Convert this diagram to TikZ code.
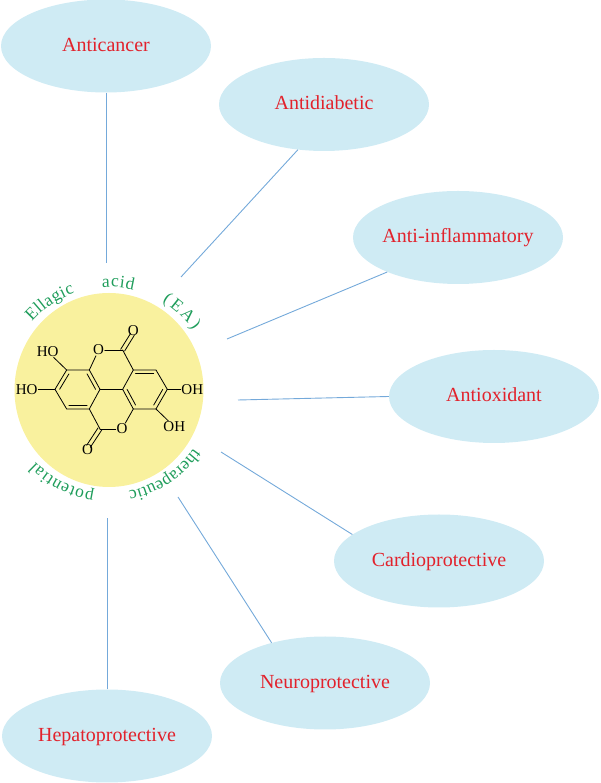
\documentclass[tikz,border=0pt]{standalone}
\usepackage{fontspec}
\setmainfont{Liberation Serif}
\usetikzlibrary{calc,decorations.text,shapes.geometric}
\definecolor{bubble}{HTML}{CFEBF4}
\definecolor{core}{HTML}{F9F19E}
\definecolor{effect}{HTML}{E2222C}
\definecolor{link}{HTML}{74A9DA}
\definecolor{word}{HTML}{1F9D5B}
\tikzset{
  effectnode/.style={ellipse,draw=none,fill=bubble,minimum width=210pt,minimum height=93pt,inner sep=-10pt,text=effect,text height=13pt,text depth=2pt,font=\fontsize{20}{21}\selectfont},
  linkline/.style={draw=link,line width=0.9pt},
  bond/.style={line width=0.8pt,line cap=round},
  atom/.style={inner sep=0.6pt,font=\fontsize{15}{16}\selectfont},
  arcword/.style 2 args={decorate,decoration={text effects along path,text={#2},text align=center,
    text effects/.cd,text along path,every character/.style={inner xsep=#1,text=word,font=\fontsize{17.5}{18}\selectfont}}}
}
\begin{document}
\begin{tikzpicture}[x=1pt,y=1pt]
\useasboundingbox (0,0) rectangle (600,783);

% central disc
\fill[core] (109,393) ellipse (94.5 and 97);

% effects
\node[effectnode] (anticancer) at (106,737) {Anticancer};
\node[effectnode] (antidiabetic) at (324,678.5) {Antidiabetic};
\node[effectnode] (antiinfl) at (458,545.5) {Anti-inflammatory};
\node[effectnode] (antiox) at (494,386.5) {Antioxidant};
\node[effectnode] (cardio) at (439,222) {Cardioprotective};
\node[effectnode] (neuro) at (325,100) {Neuroprotective};
\node[effectnode] (hepato) at (107,47) {Hepatoprotective};

% free ends near the disc
\coordinate (e1) at (106,520);
\coordinate (e2) at (181,506);
\coordinate (e3) at (227,444);
\coordinate (e4) at (238,383);
\coordinate (e5) at (221,331);
\coordinate (e6) at (178,286);
\coordinate (e7) at (107,265);
\draw[linkline] (anticancer.270) -- (e1);
\draw[linkline] (antidiabetic.240) -- (e2);
\draw[linkline] (antiinfl.206) -- (e3);
\draw[linkline] (antiox.180) -- (e4);
\draw[linkline] (cardio.163) -- (e5);
\draw[linkline] (neuro.143) -- (e6);
\draw[linkline] (hepato.90) -- (e7);

% words round the disc
\path[arcword={0.2pt}{Ellagic}] (109,393) ++(160:103) arc (160:88:103);
\path[arcword={0.4pt}{acid}] (109,393) ++(110:103) arc (110:60:103);
\path[arcword={1.2pt}{(EA)}] (109,393) ++(75:103) arc (75:19:103);
\path[arcword={0.1pt}{therapeutic}] (109,393) ++(-20:103) arc (-20:-94:103);
\path[arcword={0.4pt}{potential}] (109,393) ++(-85:103) arc (-85:-149:103);

% molecule
\begin{scope}[shift={(0,523)},x=0.3333pt,y=-0.3333pt]
\coordinate (l1) at (268,330);
\coordinate (l2) at (300,388);
\coordinate (l3) at (268,447);
\coordinate (l4) at (200,447);
\coordinate (l5) at (165,388);
\coordinate (l6) at (200,330);
\coordinate (r1) at (368,388);
\coordinate (r2) at (400,330);
\coordinate (r3) at (468,330);
\coordinate (r4) at (502,388);
\coordinate (r5) at (468,447);
\coordinate (r6) at (400,447);
\coordinate (lc) at (234,388);
\coordinate (rc) at (434,388);
\coordinate (c1) at (368,270);
\coordinate (c2) at (300,507);
\node[atom] (o1) at (296,270) {O};
\node[atom] (o2) at (366,507) {O};
\node[atom] (o3) at (400,212) {O};
\node[atom] (o4) at (263,570) {O};
\node[atom] (ho1) at (143,275) {HO};
\node[atom] (ho2) at (80,388) {HO};
\node[atom] (oh1) at (577,388) {OH};
\node[atom] (oh2) at (523,500) {OH};
\draw[bond] (l1) -- (l2) -- (l3) -- (l4) -- (l5) -- (l6) -- cycle;
\draw[bond] (r1) -- (r2) -- (r3) -- (r4) -- (r5) -- (r6) -- cycle;
\draw[bond] (l2) -- (r1);
\foreach \a/\b/\c in {l1/l2/lc,l4/l3/lc,l5/l6/lc,r2/r3/rc,r4/r5/rc,r1/r6/rc}
  \draw[bond] ($(\a)!0.2!(\c)$) -- ($(\b)!0.2!(\c)$);
\draw[bond] (l1) -- (o1);
\draw[bond] (o1) -- (c1);
\draw[bond] (c1) -- (r2);
\draw[bond] (l3) -- (c2);
\draw[bond] (c2) -- (o2);
\draw[bond] (o2) -- (r6);
\draw[bond] ($(c1)+(-6,-2)$) -- ($(o3)+(-8,8)$);
\draw[bond] ($(c1)+(6,3)$) -- ($(o3)+(3,14)$);
\draw[bond] ($(c2)+(-6,-3)$) -- ($(o4)+(-3,-14)$);
\draw[bond] ($(c2)+(6,2)$) -- ($(o4)+(8,-8)$);
\draw[bond] (l6) -- (ho1);
\draw[bond] (l5) -- (ho2);
\draw[bond] (r4) -- (oh1);
\draw[bond] (r5) -- (oh2);
\end{scope}
\end{tikzpicture}
\end{document}
